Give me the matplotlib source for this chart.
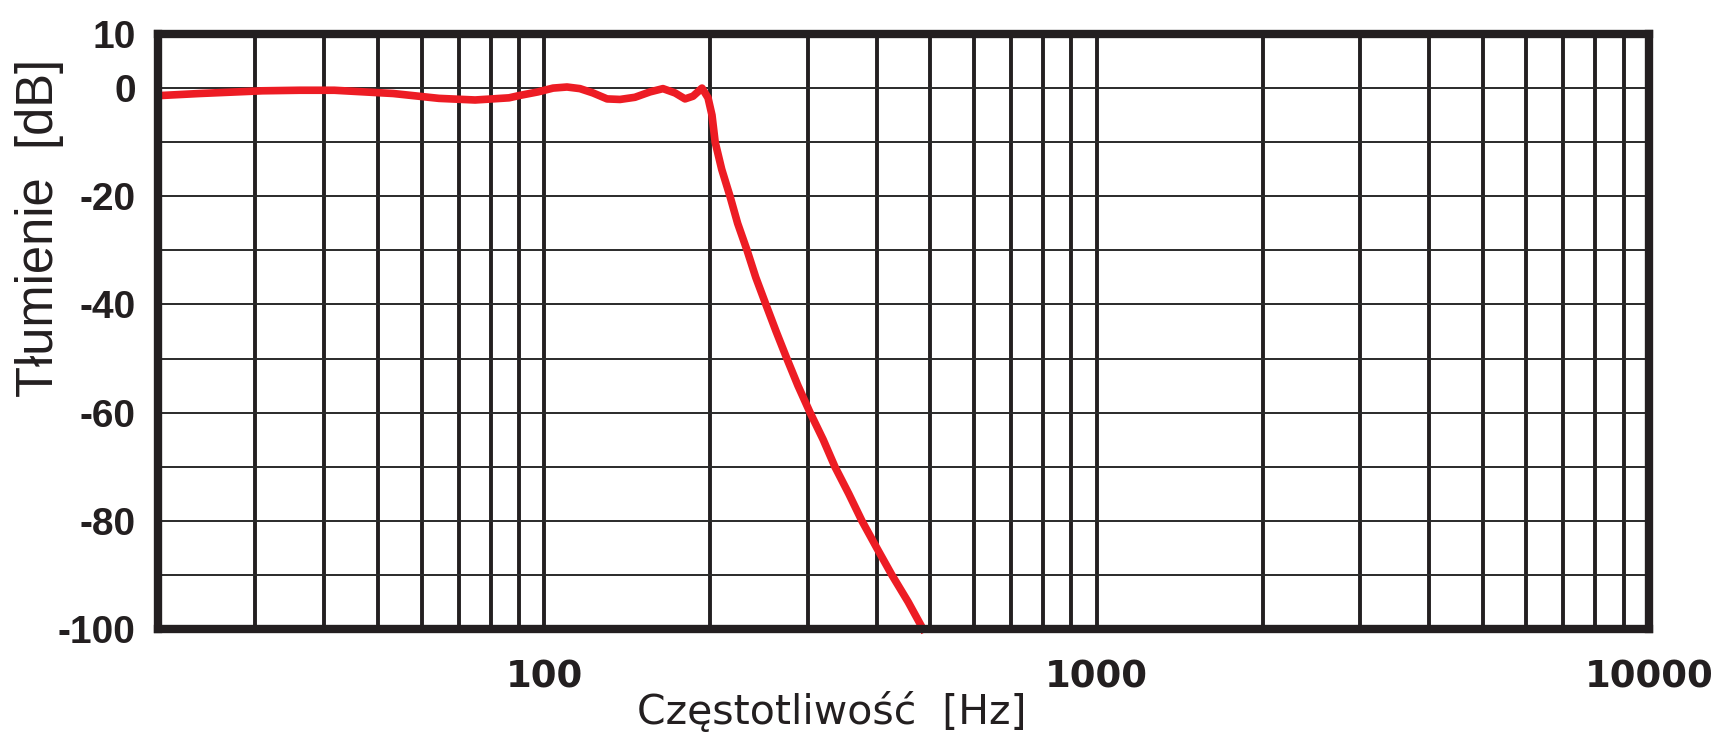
import matplotlib
matplotlib.use("Agg")
import matplotlib.pyplot as plt
from matplotlib.ticker import LogLocator, NullFormatter

# Filter response
freq_hz = [20, 23.8, 30.9, 36.1, 41.7, 53.3, 64.5, 75.0, 86.4, 90.4,
           97.5, 103.8, 110, 116.1, 122.6, 130, 137.2, 146, 155.5, 164.1,
           172.6, 179.9, 186, 193.1, 198, 201.3, 204, 209.6, 217, 224,
           233, 241.6, 252, 263, 275, 288, 303, 320, 336, 356,
           376, 400, 426, 456, 485]
atten_db = [-1.4, -1.0, -0.5, -0.4, -0.4, -1.0, -1.9, -2.2, -1.8, -1.35,
            -0.7, 0, 0.2, -0.1, -0.9, -2.0, -2.1, -1.7, -0.7, -0.1,
            -0.9, -2.0, -1.5, 0, -1.8, -5, -10, -15, -20, -25,
            -30, -35, -40, -45, -50, -55, -60, -65, -70, -75,
            -80, -85, -90, -95, -100]

x_ticks = [100, 1000, 10000]
x_tick_labels = ["100", "1000", "10000"]
y_ticks = [-100, -90, -80, -70, -60, -50, -40, -30, -20, -10, 0, 10]
y_tick_labels = ["-100", "", "-80", "", "-60", "", "-40", "", "-20", "", "0", "10"]

W, H = 1721, 741
fig = plt.figure(figsize=(W / 100, H / 100), dpi=100)
ax = fig.add_axes([158 / W, 1 - 629 / H, (1649 - 158) / W, (629 - 34) / H])

ax.plot(freq_hz, atten_db, color="#ED1C24", linewidth=5.5,
        solid_joinstyle="round", solid_capstyle="projecting", clip_on=False)

ax.set_xscale("log")
ax.set_xlim(20, 10000)
ax.set_ylim(-100, 10)

ax.set_xticks(x_ticks)
ax.set_xticklabels(x_tick_labels)
ax.xaxis.set_minor_locator(LogLocator(base=10, subs=range(2, 10)))
ax.xaxis.set_minor_formatter(NullFormatter())
ax.set_yticks(y_ticks)
ax.set_yticklabels(y_tick_labels)

ax.set_axisbelow(True)
ax.grid(True, which="both", axis="x", color="#231f20", linewidth=2.8)
ax.grid(True, which="major", axis="y", color="#2a2a2a", linewidth=1.4)

ax.tick_params(axis="both", which="both", length=0)
ax.tick_params(axis="x", pad=21)
ax.tick_params(axis="y", pad=16)
for lab in ax.get_xticklabels():
    lab.set_fontfamily("DejaVu Sans")
    lab.set_fontweight("bold")
    lab.set_fontsize(26.7)
    lab.set_color("#231f20")
for lab in ax.get_yticklabels():
    lab.set_fontfamily("Liberation Sans")
    lab.set_fontweight("bold")
    lab.set_fontsize(28)
    lab.set_color("#231f20")

for side in ["top", "bottom", "left", "right"]:
    ax.spines[side].set_linewidth(6)
    ax.spines[side].set_color("#231f20")
    ax.spines[side].set_zorder(3)

fig.text(832 / W, 1 - 724 / H, "Częstotliwość  [Hz]", ha="center", va="baseline",
         fontfamily="DejaVu Sans", fontsize=29.5, color="#231f20")
fig.text(53 / W, 1 - 228 / H, "Tłumienie  [dB]", ha="center", va="baseline",
         rotation=90, rotation_mode="anchor",
         fontfamily="Liberation Sans", fontsize=36.5, color="#231f20")

plt.savefig("out.png", dpi=100, facecolor="white")
plt.close()
